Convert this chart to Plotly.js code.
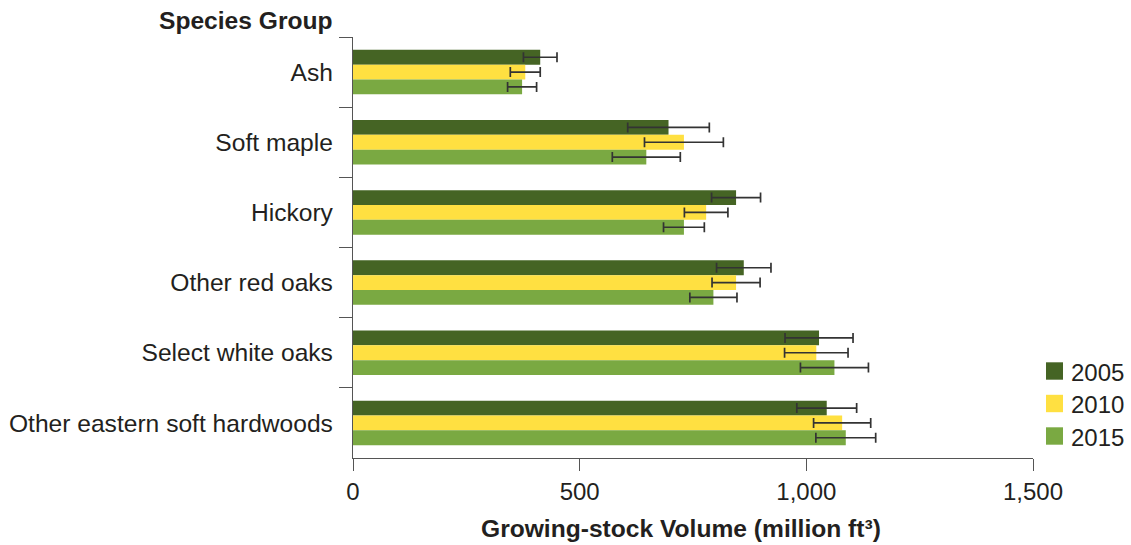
<!DOCTYPE html>
<html>
<head>
<meta charset="utf-8">
<script src="https://cdn.plot.ly/plotly-3.0.1.min.js"></script>
<style>
html,body{margin:0;padding:0;background:#fff;}
#chart{width:1131px;height:545px;}
</style>
</head>
<body>
<div id="chart"></div>
<script>
const categories = ["Ash", "Soft maple", "Hickory", "Other red oaks", "Select white oaks", "Other eastern soft hardwoods"];
const years = ["2005", "2010", "2015"];
const vals2005 = [413, 696, 845, 862, 1028, 1045];
const err2005  = [37, 90, 54, 60, 75, 66];
const vals2010 = [380, 730, 779, 845, 1022, 1079];
const err2010  = [33, 87, 48, 53, 70, 63];
const vals2015 = [373, 647, 730, 795, 1062, 1087];
const err2015  = [32, 75, 45, 52, 75, 66];
const colors = ["#456424", "#ffe041", "#7aa942"];

const W = 1131, H = 545;
const L = 353, R = 1033, T = 37, B = 458;
const px2x = p => (p - L) / (R - L);
const py2y = p => (B - p) / (B - T);

const FONT = "Liberation Sans, Arial, Helvetica, sans-serif";
const TXT = "#231f20";

const series = [vals2005, vals2010, vals2015];
const errs = [err2005, err2010, err2015];

const traces = series.map((v, i) => ({
  type: "bar",
  orientation: "h",
  name: years[i],
  y: categories,
  x: v,
  marker: {color: colors[i], line: {width: 0}},
  error_x: {type: "data", array: errs[i], visible: true, color: "#333333", thickness: 1.7, width: 5},
  hoverinfo: "x+y+name"
}));

const shapes = [];
const annotations = [];
const legendRows = [371, 403.5, 436];
years.forEach((yr, i) => {
  const cy = legendRows[i];
  shapes.push({type: "rect", xref: "paper", yref: "paper",
    x0: px2x(1046), x1: px2x(1063), y0: py2y(cy + 8.7), y1: py2y(cy - 8.7),
    fillcolor: colors[i], line: {width: 0}});
  annotations.push({xref: "paper", yref: "paper", x: px2x(1069), y: py2y(cy + 1),
    xanchor: "left", yanchor: "middle", showarrow: false, text: yr,
    font: {family: FONT, size: 24, color: TXT}});
});
annotations.push({xref: "paper", yref: "paper", x: px2x(335), y: py2y(20),
  xanchor: "right", yanchor: "middle", showarrow: false, text: "<b>Species Group</b>",
  font: {family: FONT, size: 24.6, color: TXT}});
annotations.push({xref: "paper", yref: "paper", x: px2x(681), y: py2y(528),
  xanchor: "center", yanchor: "middle", showarrow: false, text: "<b>Growing-stock Volume (million ft³)</b>",
  font: {family: FONT, size: 24.6, color: TXT}});

const layout = {
  width: W, height: H,
  margin: {l: L, r: W - R, t: T, b: H - B, pad: 0},
  paper_bgcolor: "#fff", plot_bgcolor: "#fff",
  barmode: "group", bargap: 0.365, bargroupgap: 0,
  showlegend: false,
  font: {family: FONT, size: 24, color: TXT},
  xaxis: {
    range: [0, 1500], tickvals: [0, 500, 1000, 1500], ticktext: ["0", "500", "1,000", "1,500"],
    showgrid: false, zeroline: false, showline: true, linecolor: "#555", linewidth: 1.3,
    ticks: "outside", ticklen: 12, tickwidth: 1.3, tickcolor: "#555",
    tickfont: {family: FONT, size: 24, color: TXT}, fixedrange: true
  },
  yaxis: {
    type: "category", categoryorder: "array", categoryarray: categories,
    range: [5.5, -0.5], tickson: "boundaries",
    showgrid: false, zeroline: false, showline: true, linecolor: "#555", linewidth: 1.3,
    ticks: "outside", ticklen: 13, tickwidth: 1.3, tickcolor: "#555",
    tickfont: {family: FONT, size: 24.6, color: TXT}, ticklabelstandoff: 14, fixedrange: true
  },
  shapes: shapes,
  annotations: annotations
};

Plotly.newPlot("chart", traces, layout, {displayModeBar: false, staticPlot: false});
</script>
</body>
</html>
